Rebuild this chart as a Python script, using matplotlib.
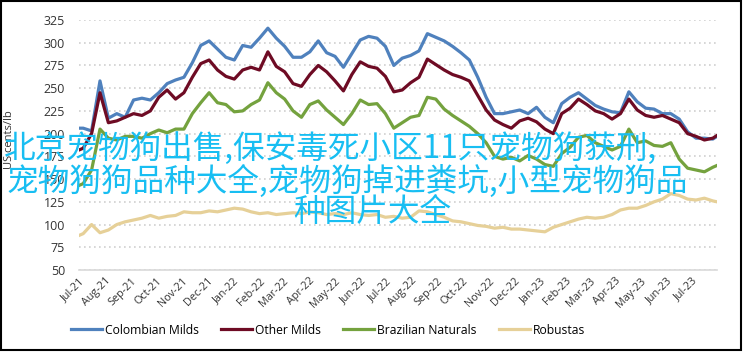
import pandas as pd
import numpy as np
import matplotlib.pyplot as plt
import matplotlib.dates as mdates
from matplotlib.patches import Rectangle

# 日期 (约每10天一个点)
dates = (['2021-07-01']
         + [d.strftime('%Y-%m-%d') for d in pd.date_range('2021-07-06', '2023-07-26', freq='10D')]
         + ['2023-07-31'])

colombian = [206, 206, 203, 258, 217, 222, 218, 237, 239, 237, 245, 255, 259, 262, 278, 297,
             302, 293, 284, 281, 297, 295, 305, 316, 305, 296, 284, 284, 290, 302, 289, 285,
             273, 288, 303, 307, 305, 296, 275, 283, 286, 291, 310, 306, 302, 296, 289, 281,
             262, 240, 222, 222, 224, 226, 222, 229, 218, 212, 233, 240, 245, 238, 231, 227,
             224, 223, 246, 235, 228, 227, 222, 222, 216, 202, 195, 195, 194, 197]

other_milds = [182, 184, 200, 245, 212, 214, 218, 222, 220, 225, 240, 248, 238, 245, 262, 277,
               281, 270, 263, 260, 270, 273, 270, 290, 274, 268, 255, 252, 265, 275, 268, 258,
               247, 265, 279, 274, 272, 263, 246, 248, 256, 262, 282, 276, 270, 265, 262, 258,
               242, 226, 215, 210, 206, 214, 217, 213, 205, 200, 222, 228, 238, 232, 225, 222,
               216, 222, 238, 226, 220, 218, 220, 216, 212, 200, 197, 193, 195, 198]

brazilian = [143, 145, 160, 205, 195, 193, 197, 197, 195, 200, 204, 201, 205, 205, 222, 234,
             245, 234, 232, 224, 225, 232, 237, 256, 245, 238, 225, 218, 232, 236, 226, 218,
             210, 222, 237, 232, 233, 222, 206, 212, 218, 220, 240, 238, 227, 220, 214, 208,
             200, 190, 175, 172, 174, 170, 176, 172, 166, 164, 178, 185, 196, 198, 190, 186,
             182, 186, 205, 190, 192, 187, 186, 190, 172, 162, 160, 158, 163, 165]

robustas = [88, 90, 100, 91, 94, 100, 103, 105, 107, 110, 107, 109, 110, 114, 113, 113,
            115, 114, 116, 118, 117, 114, 112, 113, 111, 112, 113, 112, 114, 113, 111, 112,
            111, 113, 111, 110, 111, 108, 109, 107, 108, 115, 114, 111, 108, 104, 103, 101,
            99, 98, 96, 97, 95, 95, 94, 93, 92, 97, 100, 103, 106, 108, 107, 108,
            111, 116, 118, 118, 121, 125, 128, 134, 132, 128, 127, 129, 126, 125]

series_names = ['Colombian Milds', 'Other Milds', 'Brazilian Naturals', 'Robustas']
colors = ['#4F81BD', '#6E0B24', '#74A23E', '#E6D098']
y_ticks = list(range(50, 326, 25))

overlay_lines = ['北京宠物狗出售,保安毒死小区11只宠物狗获刑,',
                 '宠物狗狗品种大全,宠物狗掉进粪坑,小型宠物狗品',
                 '种图片大全']

W, H = 743, 352
fig = plt.figure(figsize=(W / 100, H / 100), dpi=100)
ax = fig.add_axes([79 / W, 1 - 270 / H, (717 - 79) / W, 250 / H])

x = pd.to_datetime(dates)
for vals, name, c in zip([colombian, other_milds, brazilian, robustas], series_names, colors):
    ax.plot(x, vals, color=c, lw=2.3, label=name, solid_joinstyle='round')

ax.set_xlim(pd.Timestamp('2021-07-01'), pd.Timestamp('2023-07-31'))
ax.set_ylim(50, 325)
ax.set_yticks(y_ticks)
ax.yaxis.grid(True, color='#CFCFCF', lw=1.2, linestyle=(0, (1, 2)))
ax.set_axisbelow(True)
ax.xaxis.set_major_locator(mdates.MonthLocator())
ax.xaxis.set_major_formatter(mdates.DateFormatter('%b-%y'))
for lab in ax.get_xticklabels():
    lab.set_rotation(45)
    lab.set_ha('right')
    lab.set_rotation_mode('anchor')
ax.tick_params(axis='x', length=0, pad=4, labelsize=7.8, labelcolor='#333333')
ax.tick_params(axis='y', length=0, pad=10, labelsize=9, labelcolor='#333333')
for lab in ax.get_xticklabels() + ax.get_yticklabels():
    lab.set_family('Open Sans')
for s in ['top', 'right', 'left']:
    ax.spines[s].set_visible(False)
ax.spines['bottom'].set_color('#D9D9D9')
ax.spines['bottom'].set_linewidth(1.2)

fig.text(10 / W, 1 - 140 / H, 'US cents/lb', rotation=90, ha='center', va='center',
         fontsize=8, color='#333333', family='Open Sans')

fig.legend(loc='center left', bbox_to_anchor=(66 / W, 1 - 330 / H), ncol=4, frameon=False,
           handlelength=2.55, columnspacing=1.85, handletextpad=0.25, borderaxespad=0,
           prop={'family': 'Open Sans', 'size': 8.7})

# 叠加文字
for txt, (tx, ty) in zip(overlay_lines, [(4, 148), (7, 181), (293, 212)]):
    fig.text(tx / W, 1 - ty / H, txt, ha='left', va='center', fontsize=22.8,
             color='#18BEF2', family=['Noto Sans CJK SC', 'DejaVu Sans'])

fig.patches.append(Rectangle((0.5 / W, 1 - 350 / H), 740 / W, 349.5 / H, transform=fig.transFigure,
                             fill=False, edgecolor='black', lw=1.5))

fig.savefig('out.png', dpi=100)
